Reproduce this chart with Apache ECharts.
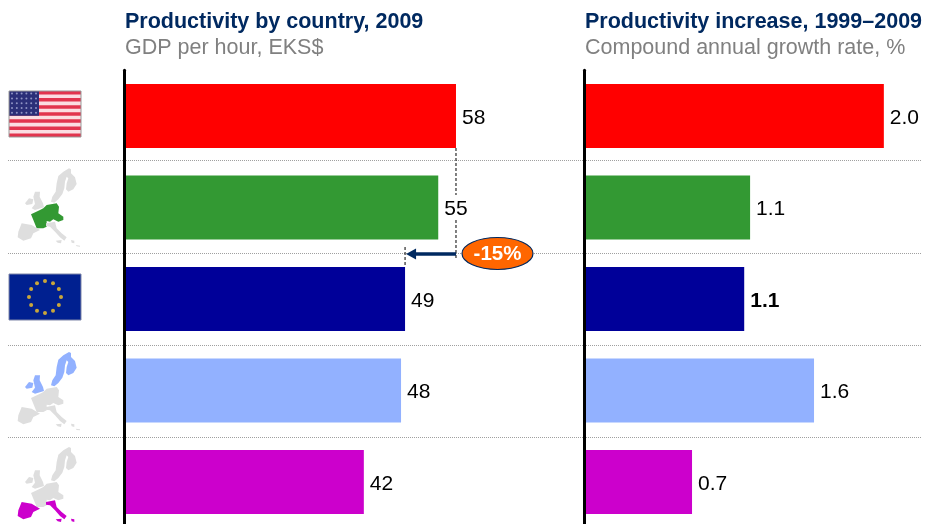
<!DOCTYPE html>
<html><head><meta charset="utf-8">
<style>html,body{margin:0;padding:0;background:#fff;overflow:hidden;height:524px}#c{width:925px;height:530px}</style>
<script src="https://cdn.jsdelivr.net/npm/echarts@6/dist/echarts.min.js"></script>
</head><body><div id="c"></div>
<script>
const categories = ['United States','Core Europe','EU-15','Nordics and UK','Southern Europe'];
const barColors = ['#FF0000','#339933','#000099','#92B1FF','#CC00CC'];
const productivity = [58, 54.9, 49.1, 48.4, 41.9];
const growth = [2.04, 1.13, 1.09, 1.565, 0.735];
const boldGrowthIndex = 2;
const gapPercentLabel = '-15%';
const FONT = '"Liberation Sans", Arial, sans-serif';

const chart = echarts.init(document.getElementById('c'), null, {renderer:'canvas'});

function bars(values, axisIndex, digits){
  return {
    type:'bar', xAxisIndex:axisIndex, yAxisIndex:axisIndex, barWidth:64, silent:true, animation:false,
    data: values.map((v,i)=>({
      value:v,
      itemStyle:{color:barColors[i]},
      label:{fontWeight:(axisIndex===1&&i===boldGrowthIndex)?'bold':'normal'}
    })),
    label:{show:true, position:'right', distance:6, offset:[0,2], fontFamily:FONT, fontSize:21, color:'#000',
      formatter:p=>p.value.toFixed(digits)}
  };
}
function catAxis(i){
  return {type:'category', gridIndex:i, inverse:true, data:categories, z:6,
    axisLine:{show:true, onZero:false, lineStyle:{color:'#000', width:3}},
    axisTick:{show:false}, axisLabel:{show:false}, splitLine:{show:false}};
}
function valAxis(i,max){
  return {type:'value', gridIndex:i, min:0, max:max, show:false, splitLine:{show:false}};
}
const titleStyle = {fontFamily:FONT,fontSize:21.5,fontWeight:'bold',color:'#002960'};
const subStyle = {fontFamily:FONT,fontSize:21.5,fontWeight:'normal',color:'#808080'};
const option = {
  animation:false, backgroundColor:'#fff',
  title:[
    {text:'Productivity by country, 2009', left:125, top:11, padding:0, textStyle:titleStyle},
    {text:'GDP per hour, EKS$', left:125, top:37, padding:0, textStyle:subStyle},
    {text:'Productivity increase, 1999\u20132009', left:585, top:11, padding:0, textStyle:titleStyle},
    {text:'Compound annual growth rate, %', left:585, top:37, padding:0, textStyle:subStyle}
  ],
  grid:[
    {left:124, top:70.25, width:572.4, height:457.5},
    {left:584, top:70.25, width:341, height:457.5}
  ],
  xAxis:[valAxis(0,100), valAxis(1,2.32)],
  yAxis:[catAxis(0), catAxis(1)],
  series:[bars(productivity,0,0), bars(growth,1,1)]
};
chart.setOption(option);

/* ---- decorations ---- */
const g = [];
[160.5,253.5,345.5,437.5].forEach(y=>g.push({type:'line',z:1,shape:{x1:8,y1:y,x2:921,y2:y},
  style:{stroke:'#a0a0a0',lineWidth:1,lineDash:[1,1]}}));

// US flag
const fx=9, fy=91, fw=72, fh=46;
g.push({type:'rect',z:5,shape:{x:fx,y:fy,width:fw,height:fh},style:{fill:'#FBDDE2'}});
for(let i=0;i<7;i++){
  const sh=fh/13;
  g.push({type:'rect',z:5,shape:{x:fx,y:fy+i*2*sh,width:fw,height:sh},style:{fill:'#E2344E'}});
}
g.push({type:'rect',z:5,shape:{x:fx,y:fy,width:30,height:fh*7/13},style:{fill:'#2B2F78'}});
for(let r=0;r<5;r++)for(let c=0;c<6;c++){
  g.push({type:'circle',z:5,shape:{cx:fx+3+c*4.8,cy:fy+2.6+r*4.8,r:1},style:{fill:'#8f93c4'}});
}
g.push({type:'rect',z:6,shape:{x:fx,y:fy,width:fw,height:fh},style:{fill:'none',stroke:'#999',lineWidth:1}});

// EU flag
const ey=274;
g.push({type:'rect',z:5,shape:{x:fx,y:ey,width:fw,height:fh},style:{fill:'#002090',stroke:'#7f86a8',lineWidth:1}});
for(let i=0;i<12;i++){
  const a=i*Math.PI/6;
  g.push({type:'circle',z:6,shape:{cx:fx+36+16*Math.sin(a),cy:ey+23-16*Math.cos(a),r:2},style:{fill:'#C9A63A'}});
}

// Europe icons, outlines in 1/3-pixel units
const shapes = {
  nordic:[[162,15],[168,18],[168,30],[180,42],[185,62],[175,78],[160,85],[153,78],[155,60],[160,45],[155,40],[150,55],[148,75],[142,92],[130,108],[118,118],[108,115],[112,100],[122,85],[125,60],[130,38],[145,25]],
  uk:[[60,85],[75,85],[74,100],[84,120],[87,132],[60,140],[50,135],[60,122],[55,100]],
  ie:[[30,120],[42,105],[55,108],[52,122],[35,125]],
  core:[[48,153],[75,140],[85,135],[95,125],[125,120],[132,130],[130,150],[145,160],[145,170],[130,175],[115,168],[105,175],[95,173],[95,190],[85,195],[65,195],[55,170]],
  iberia:[[20,180],[50,185],[75,200],[55,210],[48,225],[25,232],[8,222],[10,205]],
  italy:[[93,180],[120,175],[125,195],[140,210],[155,222],[148,232],[135,222],[120,205],[105,190],[93,188]],
  sicily:[[122,232],[140,230],[138,240],[128,238]],
  greece:[[168,230],[178,232],[178,240],[170,238]],
  islet:[[182,245],[195,247],[195,250],[185,249]]
};
const groups = {nordic:['nordic','uk','ie'], core:['core'], south:['iberia','italy','sicily','greece']};
function europe(offsetY, highlight, color){
  Object.keys(shapes).forEach(k=>{
    const on = highlight && groups[highlight].includes(k);
    g.push({type:'polygon',z:5,
      shape:{points:shapes[k].map(p=>[15+p[0]/3, p[1]/3+offsetY])},
      style:{fill:on?color:'#DEDEDE'}});
  });
}
europe(163.3,'core',barColors[1]);
europe(347,'nordic',barColors[3]);
europe(442,'south',barColors[4]);

// Gap callout anchored to the bar scale
const xTop = chart.convertToPixel({xAxisIndex:0}, productivity[0]);
const xEu  = chart.convertToPixel({xAxisIndex:0}, productivity[2]);
const navy = '#002960';
const dash = {stroke:'#000',lineWidth:1,lineDash:[3,2]};
g.push({type:'line',z:7,shape:{x1:xTop,y1:148,x2:xTop,y2:195},style:dash});
g.push({type:'line',z:7,shape:{x1:xTop,y1:220,x2:xTop,y2:260},style:dash});
g.push({type:'line',z:7,shape:{x1:xEu,y1:247,x2:xEu,y2:267},style:dash});
g.push({type:'line',z:8,shape:{x1:xEu+8,y1:254,x2:xTop,y2:254},style:{stroke:navy,lineWidth:3.5}});
g.push({type:'polygon',z:8,shape:{points:[[xEu+1,254],[xEu+11,248.5],[xEu+11,259.5]]},style:{fill:navy}});
g.push({type:'ellipse',z:9,shape:{cx:497.5,cy:253.5,rx:35.5,ry:16},style:{fill:'#FF6600',stroke:navy,lineWidth:1.2}});
g.push({type:'text',z:10,style:{x:497.5,y:254,text:gapPercentLabel,align:'center',verticalAlign:'middle',
  fill:'#fff',font:'bold 20.5px '+FONT}});

chart.setOption({graphic:{elements:g}});
</script></body></html>
